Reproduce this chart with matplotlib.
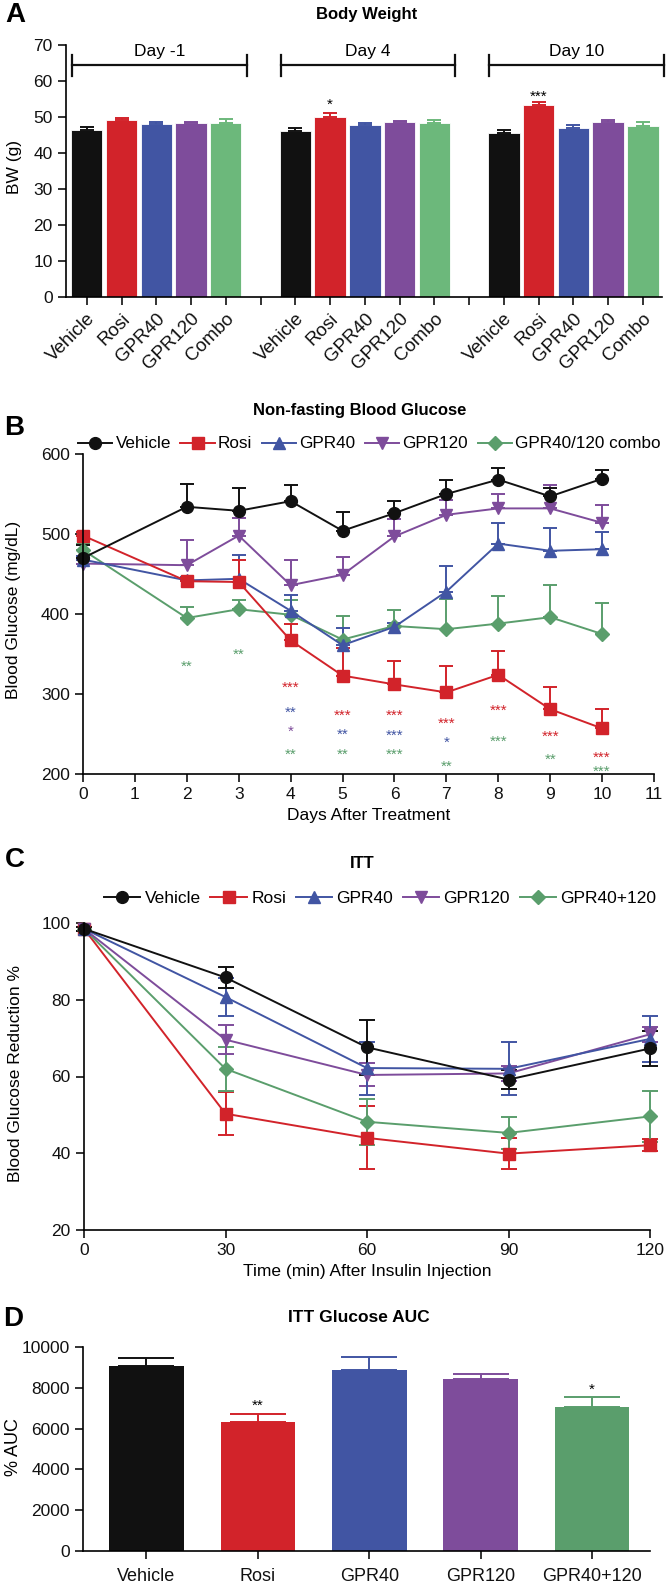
import numpy as np
import matplotlib
matplotlib.use("Agg")
import matplotlib.pyplot as plt
from matplotlib import font_manager

names = {f.name for f in font_manager.fontManager.ttflist}
REG = 'Liberation Sans' if 'Liberation Sans' in names else 'DejaVu Sans'
plt.rcParams['font.family'] = [REG, 'DejaVu Sans']
plt.rcParams['axes.linewidth'] = 1.2

# ---------------- data ----------------
# A: body weight
bw_groups = ['Vehicle', 'Rosi', 'GPR40', 'GPR120', 'Combo']
bw_days = ['Day -1', 'Day 4', 'Day 10']
bw_dm1 = [46.5, 49.2, 48.1, 48.2, 48.3]
bw_dm1_err = [0.6, 0.6, 0.6, 0.3, 1.1]
bw_d4 = [46.2, 50.0, 47.7, 48.5, 48.3]
bw_d4_err = [0.7, 1.0, 0.5, 0.5, 1.0]
bw_d10 = [45.6, 53.2, 47.0, 48.5, 47.5]
bw_d10_err = [0.8, 0.9, 0.8, 0.6, 1.1]
bw_stars = ['', '*', '***']   # on Rosi bar of each day
bw_star_y = [0, 54.2, 56.5]

# B: non-fasting blood glucose
bg_days = [0, 2, 3, 4, 5, 6, 7, 8, 9, 10]
bg_vehicle = [470, 534, 529, 541, 504, 526, 550, 568, 547, 569]
bg_vehicle_err = [16, 29, 28, 20, 23, 15, 17, 14, 11, 11]
bg_rosi = [498, 441, 440, 367, 323, 312, 302, 324, 281, 257]
bg_rosi_err = [4, 4, 28, 20, 35, 29, 33, 30, 28, 24]
bg_gpr40 = [468, 442, 444, 404, 361, 384, 428, 488, 479, 481]
bg_gpr40_err = [5, 4, 30, 20, 21, 5, 32, 26, 28, 22]
bg_gpr120 = [463, 461, 498, 436, 449, 497, 524, 532, 532, 514]
bg_gpr120_err = [4, 32, 22, 32, 22, 22, 19, 18, 29, 22]
bg_combo = [480, 395, 406, 399, 368, 385, 381, 388, 396, 375]
bg_combo_err = [8, 14, 12, 18, 29, 20, 38, 34, 40, 39]
bg_labels = ['Vehicle', 'Rosi', 'GPR40', 'GPR120', 'GPR40/120 combo']

# significance stars in B: day, y, text, series index
st_day = [2, 3, 4, 4, 4, 4, 5, 5, 5, 6, 6, 6, 7, 7, 7, 8, 8, 9, 9, 10, 10]
st_y = [338, 353, 312, 281, 257, 228, 277, 253, 228, 277, 252, 228,
        267, 243, 214, 283, 245, 251, 222, 225, 207]
st_txt = ['**', '**', '***', '**', '*', '**', '***', '**', '**', '***', '***', '***',
          '***', '*', '**', '***', '***', '***', '**', '***', '***']
st_ser = [4, 4, 1, 2, 3, 4, 1, 2, 4, 1, 2, 4, 1, 2, 4, 1, 4, 1, 4, 1, 4]

# C: ITT
itt_t = [0, 30, 60, 90, 120]
itt_vehicle = [98.5, 85.8, 67.6, 59.2, 67.3]
itt_vehicle_err = [0.5, 2.8, 7.2, 2.5, 4.5]
itt_rosi = [98.5, 50.3, 44.0, 39.9, 42.1]
itt_rosi_err = [0.5, 5.6, 8.2, 4.1, 1.5]
itt_gpr40 = [98.5, 80.7, 62.2, 62.0, 69.8]
itt_gpr40_err = [0.5, 5.0, 6.9, 6.9, 6.0]
itt_gpr120 = [98.5, 69.6, 60.4, 60.8, 71.0]
itt_gpr120_err = [0.5, 3.7, 3.0, 2.0, 2.0]
itt_combo = [98.5, 62.0, 48.2, 45.3, 49.6]
itt_combo_err = [0.5, 5.8, 6.0, 4.2, 6.7]
itt_labels = ['Vehicle', 'Rosi', 'GPR40', 'GPR120', 'GPR40+120']

# D: ITT AUC
auc_groups = ['Vehicle', 'Rosi', 'GPR40', 'GPR120', 'GPR40+120']
auc_vals = [9080, 6330, 8870, 8430, 7050]
auc_err = [380, 390, 620, 260, 520]
auc_stars = ['', '**', '', '', '*']
auc_star_y = [0, 7280, 0, 0, 8070]

# colours
BLK = '#111111'
RED = '#d2232a'
BLU = '#4155a3'
PUR = '#7e4c9b'
GRN_A = '#6cb87b'
GRN = '#5a9e6c'
colsA = [BLK, RED, BLU, PUR, GRN_A]
cols = [BLK, RED, BLU, PUR, GRN]
markers = ['o', 's', '^', 'v', 'D']
msizes = [8.5, 8, 8.5, 8.5, 7]

FS = 12.5
fig = plt.figure(figsize=(6.67, 15.87), dpi=100)
H = 1587.0
W = 667.0


def ax_at(l, r, t, b):
    return fig.add_axes([l / W, 1 - b / H, (r - l) / W, (b - t) / H])


def style(ax, fs=FS, tl=6):
    for s in ['top', 'right']:
        ax.spines[s].set_visible(False)
    ax.tick_params(direction='out', length=tl, width=1.2, labelsize=fs, colors='#111111')


def ftext(x, y, s, **kw):
    fig.text(x / W, 1 - y / H, s, **kw)


def bar_err(ax, x, y, e, colors, cap):
    # upper-only error bars, one per bar so each keeps its colour
    for xi, yi, ei, c in zip(x, y, e, colors):
        ax.errorbar([xi], [yi], yerr=[[0], [ei]], fmt='none', ecolor=c,
                    capsize=cap, elinewidth=1.4, capthick=1.4)


# ---------------- A ----------------
axA = ax_at(66, 662, 45, 297)
style(axA)
bw_all = [bw_dm1, bw_d4, bw_d10]
bw_all_err = [bw_dm1_err, bw_d4_err, bw_d10_err]
tick_pos, tick_lab = [], []
for g in range(3):
    pos = g * 6 + np.arange(5)
    axA.bar(pos, bw_all[g], width=0.9, color=colsA, edgecolor='white', linewidth=0.6)
    bar_err(axA, pos, bw_all[g], bw_all_err[g], colsA, 5)
    tick_pos += list(pos)
    tick_lab += bw_groups
    if g < 2:
        tick_pos.append(pos[-1] + 1)
        tick_lab.append('')
    # bracket
    x0, x1 = pos[0] - 0.42, pos[-1] + 0.6
    axA.plot([x0, x1], [64.4, 64.4], color='#111111', lw=1.6, clip_on=False)
    axA.plot([x0, x0], [61.4, 67.2], color='#111111', lw=1.6, clip_on=False)
    axA.plot([x1, x1], [61.4, 67.2], color='#111111', lw=1.6, clip_on=False)
    axA.text((x0 + x1) / 2, 68.1, bw_days[g], ha='center', va='center', fontsize=FS)
    if bw_stars[g]:
        axA.text(pos[1], bw_star_y[g] - 0.9, bw_stars[g], ha='center', va='center', fontsize=11)
axA.set_xlim(-0.6, 16.55)
axA.set_ylim(0, 70)
axA.set_yticks(np.arange(0, 71, 10))
axA.set_xticks(tick_pos)
axA.set_xticklabels(tick_lab, rotation=45, ha='right', rotation_mode='anchor', fontsize=13.5)
ftext(15, 15, 'A', fontsize=20, fontweight='bold', ha='center', va='center')
ftext(367, 14, 'Body Weight', fontsize=12, fontweight='bold', ha='center', va='center')
ftext(15, 167, 'BW (g)', fontsize=FS, rotation=90, ha='center', va='center')

# ---------------- B ----------------
axB = ax_at(83, 654, 454, 774)
style(axB)
bg_vals = [bg_vehicle, bg_rosi, bg_gpr40, bg_gpr120, bg_combo]
bg_errs = [bg_vehicle_err, bg_rosi_err, bg_gpr40_err, bg_gpr120_err, bg_combo_err]
handlesB = [None] * 5
for i in [4, 3, 2, 1, 0]:
    cont = axB.errorbar(bg_days, bg_vals[i], yerr=[np.zeros(len(bg_days)), bg_errs[i]],
                        color=cols[i], marker=markers[i], ms=msizes[i], lw=1.4,
                        capsize=5, elinewidth=1.4, capthick=1.4, label=bg_labels[i])
    for art in cont.get_children():
        art.set_clip_on(False)
    handlesB[i] = cont[0]
for d, y, s, k in zip(st_day, st_y, st_txt, st_ser):
    axB.text(d, y - 4.5, s, color=cols[k], ha='center', va='center', fontsize=11)
axB.set_xlim(0, 11)
axB.set_ylim(200, 600)
axB.set_xticks(np.arange(0, 12))
axB.set_yticks(np.arange(200, 601, 100))
axB.set_xlabel('Days After Treatment', fontsize=FS, labelpad=4)
axB.legend(handles=handlesB, labels=bg_labels, loc='center left', ncol=5, frameon=False,
           bbox_to_anchor=(78 / W, 1 - 444 / H), bbox_transform=fig.transFigure,
           fontsize=12.3, handlelength=2.0, handletextpad=0.2, columnspacing=0.55,
           borderaxespad=0, borderpad=0)
ftext(14, 428, 'B', fontsize=20, fontweight='bold', ha='center', va='center')
ftext(360, 411, 'Non-fasting Blood Glucose', fontsize=12, fontweight='bold', ha='center', va='center')
ftext(14, 610, 'Blood Glucose (mg/dL)', fontsize=FS, rotation=90, ha='center', va='center')

# ---------------- C ----------------
axC = ax_at(84, 650, 923, 1230)
style(axC)
itt_vals = [itt_vehicle, itt_rosi, itt_gpr40, itt_gpr120, itt_combo]
itt_errs = [itt_vehicle_err, itt_rosi_err, itt_gpr40_err, itt_gpr120_err, itt_combo_err]
handlesC = [None] * 5
for i in [1, 4, 3, 2, 0]:
    cont = axC.errorbar(itt_t, itt_vals[i], yerr=itt_errs[i], color=cols[i],
                        marker=markers[i], ms=msizes[i], lw=1.4, capsize=5.5,
                        elinewidth=1.4, capthick=1.4, label=itt_labels[i])
    for art in cont.get_children():
        art.set_clip_on(False)
    handlesC[i] = cont[0]
axC.set_xlim(0, 120)
axC.set_ylim(20, 100)
axC.set_xticks(np.arange(0, 121, 30))
axC.set_yticks(np.arange(20, 101, 20))
axC.set_xlabel('Time (min) After Insulin Injection', fontsize=FS, labelpad=4)
axC.legend(handles=handlesC, labels=itt_labels, loc='center left', ncol=5, frameon=False,
           bbox_to_anchor=(104 / W, 1 - 898 / H), bbox_transform=fig.transFigure,
           fontsize=FS, handlelength=2.1, handletextpad=0.25, columnspacing=0.55,
           borderaxespad=0, borderpad=0)
ftext(15, 860, 'C', fontsize=20, fontweight='bold', ha='center', va='center')
ftext(362, 863, 'ITT', fontsize=12, fontweight='bold', ha='center', va='center')
ftext(16, 1074, 'Blood Glucose Reduction %', fontsize=FS, rotation=90, ha='center', va='center')

# ---------------- D ----------------
axD = ax_at(83, 650, 1347, 1551)
style(axD)
xd = np.arange(5)
colsD = [BLK, RED, BLU, PUR, GRN]
axD.bar(xd, auc_vals, width=0.67, color=colsD)
bar_err(axD, xd, auc_vals, auc_err, colsD, 20)
for i in range(5):
    if auc_stars[i]:
        axD.text(xd[i], auc_star_y[i] - 160, auc_stars[i], ha='center', va='center', fontsize=11)
axD.set_xlim(-0.57, 4.52)
axD.set_ylim(0, 10000)
axD.set_yticks(np.arange(0, 10001, 2000))
axD.set_xticks(xd)
axD.set_xticklabels(auc_groups, fontsize=13)
axD.tick_params(axis='x', pad=6)
ftext(13, 1319, 'D', fontsize=20, fontweight='bold', ha='center', va='center')
ftext(359, 1318, 'ITT Glucose AUC', fontsize=12.5, fontweight='bold', ha='center', va='center')
ftext(13, 1447, '% AUC', fontsize=13, rotation=90, ha='center', va='center')

fig.savefig('out.png', dpi=100)
